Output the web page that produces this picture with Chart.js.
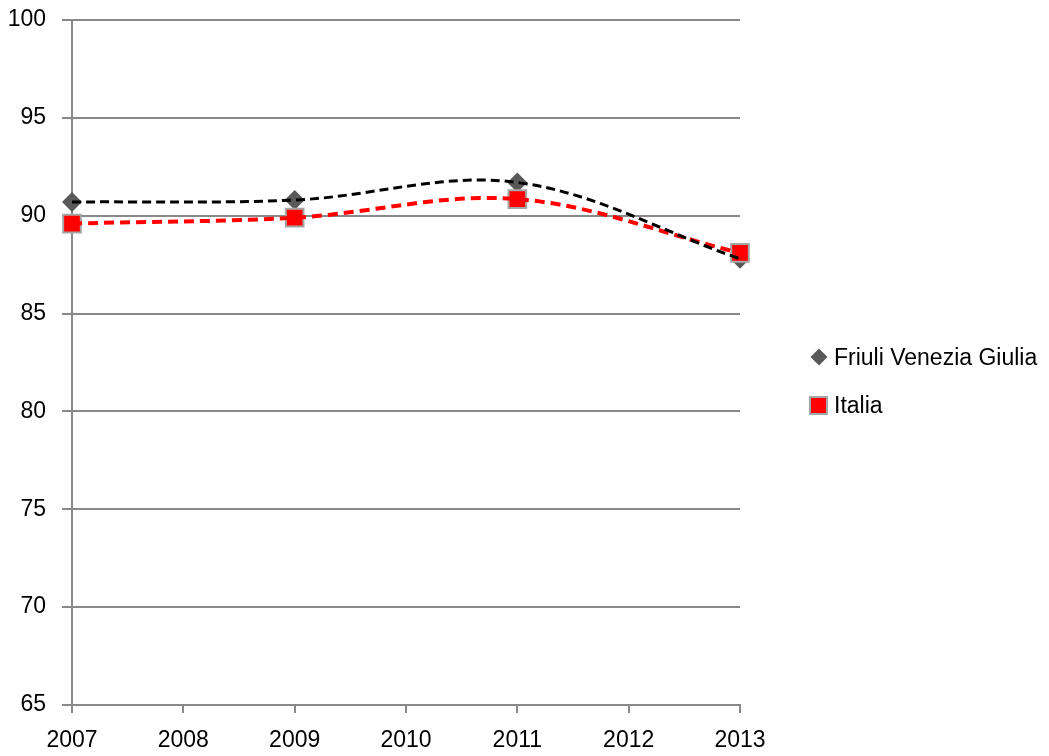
<!DOCTYPE html>
<html lang="it">
<head>
<meta charset="UTF-8">
<title>Friuli Venezia Giulia - Italia</title>
<script src="https://cdn.jsdelivr.net/npm/chart.js"></script>
<style>
    body { margin: 0; background: #fff; font-family: "Liberation Sans", Arial, sans-serif; }
    #box { position: relative; width: 1049px; height: 756px; }
    #legenda { position: absolute; left: 808px; top: 339px; font-size: 23px; color: #000; }
    .voce { position: relative; height: 48px; line-height: 36px; padding-left: 26px; }
    .diamante { position: absolute; left: 5px; top: 12px; width: 12px; height: 12px; background: #595959; transform: rotate(45deg); }
    .quadrato { position: absolute; left: 1px; top: 9px; width: 15px; height: 15px; background: #ff0000; border: 2px solid #a6a6a6; box-sizing: content-box; }
</style>
</head>
<body>
<div id="box">
    <canvas id="grafico" width="1049" height="756"></canvas>
    <div id="legenda">
        <div class="voce"><span class="diamante"></span>Friuli Venezia Giulia</div>
        <div class="voce"><span class="quadrato"></span>Italia</div>
    </div>
</div>

<script>
    // dati
    const anni = [2007, 2009, 2011, 2013];
    const friuli = [90.7, 90.8, 91.7, 87.8];
    const italia = [89.6, 89.9, 90.85, 88.1];
    const tickAnni = [2007, 2008, 2009, 2010, 2011, 2012, 2013];

    function punti(valori) {
        let out = [];
        for (let i = 0; i < anni.length; i++) {
            out.push({ x: anni[i], y: valori[i] });
        }
        return out;
    }

    const grigio = '#898989';

    const ctx = document.getElementById('grafico').getContext('2d');
    new Chart(ctx, {
        type: 'line',
        data: {
            datasets: [
                // linee di tendenza (sopra i marcatori)
                {
                    label: 'tendenza Friuli',
                    data: punti(friuli),
                    borderColor: '#000000',
                    borderWidth: 3,
                    borderDash: [9, 5],
                    tension: 0.35,
                    pointRadius: 0,
                    fill: false,
                    clip: false,
                    order: 0
                },
                {
                    label: 'tendenza Italia',
                    data: punti(italia),
                    borderColor: '#ff0000',
                    borderWidth: 4,
                    borderDash: [10, 6],
                    tension: 0.35,
                    pointRadius: 0,
                    fill: false,
                    clip: false,
                    order: 1
                },
                {
                    label: 'Friuli Venezia Giulia',
                    data: punti(friuli),
                    showLine: false,
                    pointStyle: 'rectRot',
                    pointRadius: 10,
                    pointBackgroundColor: '#595959',
                    pointBorderColor: '#595959',
                    pointBorderWidth: 0,
                    clip: false,
                    order: 3
                },
                {
                    label: 'Italia',
                    data: punti(italia),
                    showLine: false,
                    pointStyle: 'rect',
                    pointRadius: 12.5,
                    pointBackgroundColor: '#ff0000',
                    pointBorderColor: '#a6a6a6',
                    pointBorderWidth: 2,
                    clip: false,
                    order: 2
                }
            ]
        },
        options: {
            responsive: false,
            animation: false,
            layout: { padding: { top: 20, right: 309, bottom: 0, left: 0 } },
            plugins: {
                legend: { display: false },
                tooltip: { enabled: false }
            },
            scales: {
                x: {
                    type: 'linear',
                    min: 2007,
                    max: 2013,
                    afterBuildTicks: function (scale) {
                        scale.ticks = tickAnni.map(v => ({ value: v }));
                    },
                    afterFit: function (scale) { scale.height = 51; },
                    grid: {
                        drawOnChartArea: false,
                        drawTicks: true,
                        tickLength: 8,
                        color: grigio,
                        lineWidth: 2
                    },
                    border: { color: grigio, width: 2 },
                    ticks: {
                        color: '#000',
                        font: { size: 23, family: 'Liberation Sans' },
                        padding: 14,
                        maxRotation: 0,
                        callback: function (v) { return String(v); }
                    }
                },
                y: {
                    min: 65,
                    max: 100,
                    afterFit: function (scale) {
                        scale.width = 72;
                        scale.paddingTop = 0;
                        scale.paddingBottom = 0;
                    },
                    grid: {
                        color: grigio,
                        lineWidth: 2,
                        tickLength: 10
                    },
                    border: { color: grigio, width: 2 },
                    ticks: {
                        stepSize: 5,
                        color: '#000',
                        font: { size: 23, family: 'Liberation Sans' },
                        padding: 16
                    }
                }
            }
        }
    });
</script>
</body>
</html>
